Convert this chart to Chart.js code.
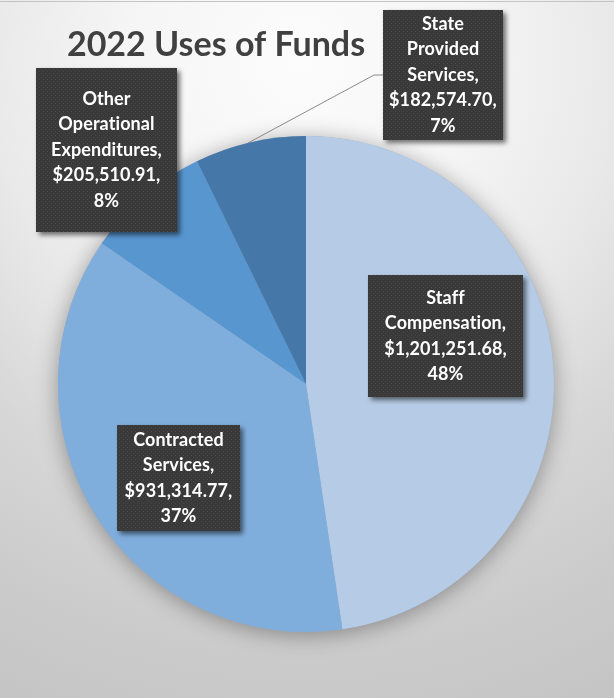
<!DOCTYPE html>
<html>
<head>
<meta charset="utf-8">
<script src="https://cdn.jsdelivr.net/npm/chart.js@4.4.1/dist/chart.umd.min.js"></script>
<style>
  html, body { margin: 0; padding: 0; overflow: hidden; background: #fff; }
</style>
</head>
<body>
<canvas id="fundsChart" width="614" height="698"></canvas>
<script>
// ================= DATA =================
const chartTitle = "2022 Uses of Funds";
const categories = ["Staff Compensation", "Contracted Services", "Other Operational Expenditures", "State Provided Services"];
const amounts = [1201251.68, 931314.77, 205510.91, 182574.70];
const sliceColors = ["#b6cbe6", "#80aedc", "#5896d0", "#4677a9"];

// ================= LABEL LAYOUT =================
// box rects for the data labels (x, y, w, h)
const labelBoxes = [
  { x: 368, y: 275, w: 155, h: 122 },
  { x: 117, y: 425, w: 123, h: 106 },
  { x: 36,  y: 68,  w: 141, h: 164 },
  { x: 383, y: 10,  w: 120, h: 130 }
];
// leader line only for the small top slice
const leaderLines = [null, null, null, [[383, 75], [374, 75], [248, 143]]];

const total = amounts.reduce((a, b) => a + b, 0);
const money = v => "$" + v.toLocaleString("en-US", { minimumFractionDigits: 2, maximumFractionDigits: 2 });

function makeDotPattern(ctx) {
  const p = document.createElement("canvas");
  p.width = 4; p.height = 4;
  const pc = p.getContext("2d");
  pc.fillStyle = "#393939";
  pc.fillRect(0, 0, 4, 4);
  pc.fillStyle = "#474747";
  pc.fillRect(1, 1, 1, 1);
  pc.fillRect(3, 3, 1, 1);
  return ctx.createPattern(p, "repeat");
}

// ================= PLUGINS =================
const backdrop = {
  id: "backdrop",
  beforeDraw(chart) {
    const { ctx, width, height } = chart;
    ctx.save();
    const g = ctx.createRadialGradient(300, 60, 0, 300, 60, 700);
    g.addColorStop(0, "#fcfcfc");
    g.addColorStop(0.25, "#f5f5f5");
    g.addColorStop(0.45, "#e9e9e9");
    g.addColorStop(0.65, "#d7d7d7");
    g.addColorStop(0.85, "#cbcbcb");
    g.addColorStop(1, "#c5c5c5");
    ctx.fillStyle = g;
    ctx.fillRect(0, 0, width, height);
    ctx.fillStyle = "#c4c4c4";
    ctx.fillRect(0, 1, width, 1);

    // title
    ctx.fillStyle = "#404040";
    ctx.font = "bold 34px Lato, 'Open Sans', sans-serif";
    ctx.textAlign = "center";
    ctx.textBaseline = "middle";
    ctx.fillText(chartTitle, 216, 45);
    ctx.restore();
  },
  beforeDatasetsDraw(chart) {
    const arc = chart.getDatasetMeta(0).data[0];
    if (!arc) return;
    const { ctx } = chart;
    ctx.save();
    ctx.shadowColor = "rgba(0,0,0,0.35)";
    ctx.shadowBlur = 22;
    ctx.shadowOffsetY = 3;
    ctx.fillStyle = "#9ab";
    ctx.beginPath();
    ctx.arc(arc.x, arc.y, arc.outerRadius, 0, Math.PI * 2);
    ctx.fill();
    ctx.restore();
  }
};

const boxLabels = {
  id: "boxLabels",
  afterDatasetsDraw(chart) {
    const { ctx } = chart;
    const pattern = makeDotPattern(ctx);
    ctx.save();
    amounts.forEach((v, i) => {
      const b = labelBoxes[i];
      const line = leaderLines[i];
      if (line) {
        ctx.strokeStyle = "#8a8a8a";
        ctx.lineWidth = 1;
        ctx.beginPath();
        line.forEach(([x, y], k) => k ? ctx.lineTo(x, y) : ctx.moveTo(x, y));
        ctx.stroke();
      }
      ctx.save();
      ctx.shadowColor = "rgba(0,0,0,0.55)";
      ctx.shadowBlur = 5;
      ctx.shadowOffsetX = 3;
      ctx.shadowOffsetY = 3;
      ctx.fillStyle = pattern;
      ctx.fillRect(b.x, b.y, b.w, b.h);
      ctx.restore();

      const lines = categories[i].split(" ");
      lines[lines.length - 1] += ",";
      lines.push(money(v) + ",");
      lines.push(Math.round(v / total * 100) + "%");
      const lh = 25.5;
      const cx = b.x + b.w / 2;
      const y0 = b.y + b.h / 2 - (lines.length - 1) * lh / 2;
      ctx.fillStyle = "#ffffff";
      ctx.font = "bold 18px Lato, 'Open Sans', sans-serif";
      ctx.letterSpacing = "0.1px"; // keeps Lato from joining "ti"
      ctx.textAlign = "center";
      ctx.textBaseline = "middle";
      lines.forEach((t, k) => ctx.fillText(t, cx, y0 + k * lh));
    });
    ctx.restore();
  }
};

// ================= CHART =================
new Chart(document.getElementById("fundsChart"), {
  type: "pie",
  data: {
    labels: categories,
    datasets: [{
      data: amounts,
      backgroundColor: sliceColors,
      borderWidth: 0
    }]
  },
  options: {
    responsive: false,
    devicePixelRatio: 1,
    animation: false,
    events: [],
    layout: { padding: { left: 58, right: 60, top: 136, bottom: 66 } },
    plugins: {
      legend: { display: false },
      tooltip: { enabled: false },
      title: { display: false }
    }
  },
  plugins: [backdrop, boxLabels]
});
</script>
</body>
</html>
